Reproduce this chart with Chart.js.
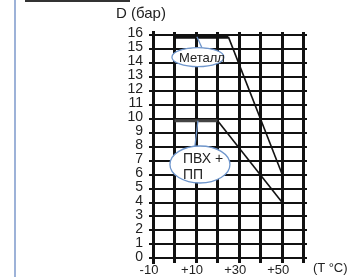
<!DOCTYPE html>
<html>
<head>
<meta charset="utf-8">
<script src="https://cdn.jsdelivr.net/npm/chart.js@4.4.0/dist/chart.umd.min.js"></script>
<style>
  body { margin:0; background:#fff; }
  #wrap { position:relative; width:347px; height:277px; overflow:hidden; font-family:"Liberation Sans Narrow","Liberation Sans",Arial,sans-serif; color:#222; }
  #c { position:absolute; left:0; top:0; }
  .txt { position:absolute; white-space:nowrap; }
  #vline { position:absolute; left:14px; top:0; width:2px; height:277px; background:#9db2d8; }
  #hline { position:absolute; left:25px; top:0; width:105px; height:2px; background:#333; }
</style>
</head>
<body>
<div id="wrap">
  <div id="vline"></div>
  <div id="hline"></div>
  <canvas id="c" width="347" height="277"></canvas>
  <div class="txt" style="left:116px;top:4px;font-size:15px;font-family:'Liberation Sans',Arial,sans-serif;">D (бар)</div>
  <div class="txt" style="left:313px;top:260px;font-size:13px;">(T °C)</div>
</div>
<script>
// ====== Pressure vs temperature ======
const xTicks = [-10, 0, 10, 20, 30, 40, 50, 60];
const xLabels = ["-10", "", "+10", "", "+30", "", "+50", ""];
const yTicks = [0,1,2,3,4,5,6,7,8,9,10,11,12,13,14,15,16];

const metalT = [0, 25, 50];
const metalD = [15.85, 15.85, 6];
const pvcT = [0, 20, 50];
const pvcD = [9.85, 9.85, 4];

// callouts (data units for anchor, px for size)
const callouts = [
  { lines:["Металл"], cx:10.86, cy:14.4, rx:26, ry:9.5, from:[10.4,15.86], to:[12.7,15.08], tx:-19, ty:[1] , size:13},
  { lines:["ПВХ +","ПП"], cx:11.8, cy:6.72, rx:30, ry:18.5, from:[10.86,9.85], to:[9.47,8.04], tx:-17, ty:[-5.5,10.5], size:14 }
];

const pts = (xs, ys) => xs.map((x, i) => ({x: x, y: ys[i]}));

const calloutPlugin = {
  id: "callouts",
  afterDatasetsDraw(chart) {
    const ctx = chart.ctx, xs = chart.scales.x, ys = chart.scales.y;
    ctx.save();
    callouts.forEach(c => {
      const cx = xs.getPixelForValue(c.cx), cy = ys.getPixelForValue(c.cy);
      ctx.strokeStyle = "#6f96cc";
      ctx.lineWidth = 1.3;
      ctx.beginPath();
      ctx.moveTo(xs.getPixelForValue(c.from[0]), ys.getPixelForValue(c.from[1]));
      ctx.lineTo(xs.getPixelForValue(c.to[0]), ys.getPixelForValue(c.to[1]));
      ctx.stroke();
      ctx.beginPath();
      ctx.ellipse(cx, cy, c.rx, c.ry, 0, 0, Math.PI*2);
      ctx.fillStyle = "#fff";
      ctx.fill();
      ctx.stroke();
      ctx.fillStyle = "#222";
      ctx.font = c.size + "px 'Liberation Sans Narrow','Liberation Sans',Arial";
      ctx.textBaseline = "middle";
      ctx.textAlign = "left";
      c.lines.forEach((t, i) => ctx.fillText(t, cx + c.tx, cy + c.ty[i]));
    });
    ctx.restore();
  }
};

new Chart(document.getElementById("c").getContext("2d"), {
  type: "line",
  data: {
    datasets: [
      {
        data: pts(metalT, metalD),
        borderColor: "#111",
        borderWidth: 1.5,
        pointRadius: 0,
        tension: 0,
        segment: { borderWidth: ctx => ctx.p0DataIndex === 0 ? 3.5 : 1.6 }
      },
      {
        data: pts(pvcT, pvcD),
        borderColor: "#111",
        borderWidth: 1.5,
        pointRadius: 0,
        tension: 0,
        segment: {
          borderWidth: ctx => ctx.p0DataIndex === 0 ? 3 : 1.6,
          borderColor: ctx => ctx.p0DataIndex === 0 ? "#444" : "#111"
        }
      }
    ]
  },
  options: {
    responsive: false,
    animation: false,
    layout: { padding: { left: 0, right: 40, top: 32, bottom: 0 } },
    plugins: { legend: { display: false }, tooltip: { enabled: false } },
    scales: {
      x: {
        type: "linear",
        min: -10, max: 61.5,
        afterBuildTicks: s => { s.ticks = xTicks.map(v => ({value: v})); },
        afterFit: s => { s.height = 13; },
        grid: { color: "#111", lineWidth: 3, drawTicks: false },
        border: { display: false },
        ticks: {
          padding: 0,
          labelOffset: -4,
          maxRotation: 0,
          autoSkip: false,
          color: "#222",
          font: { family: "'Liberation Sans Narrow','Liberation Sans',Arial", size: 13 },
          callback: (v, i) => xLabels[i]
        }
      },
      y: {
        min: -0.3, max: 16.2,
        afterBuildTicks: s => { s.ticks = yTicks.map(v => ({value: v})); },
        afterFit: s => { s.width = 153; },
        grid: { color: "#111", lineWidth: 2, tickLength: 4 },
        border: { display: true, color: "#111", width: 3 },
        ticks: {
          padding: 6,
          labelOffset: -1.5,
          autoSkip: false,
          color: "#222",
          font: { family: "'Liberation Sans Narrow','Liberation Sans',Arial", size: 14 },
          callback: v => String(v)
        }
      }
    }
  },
  plugins: [calloutPlugin]
});
</script>
</body>
</html>
